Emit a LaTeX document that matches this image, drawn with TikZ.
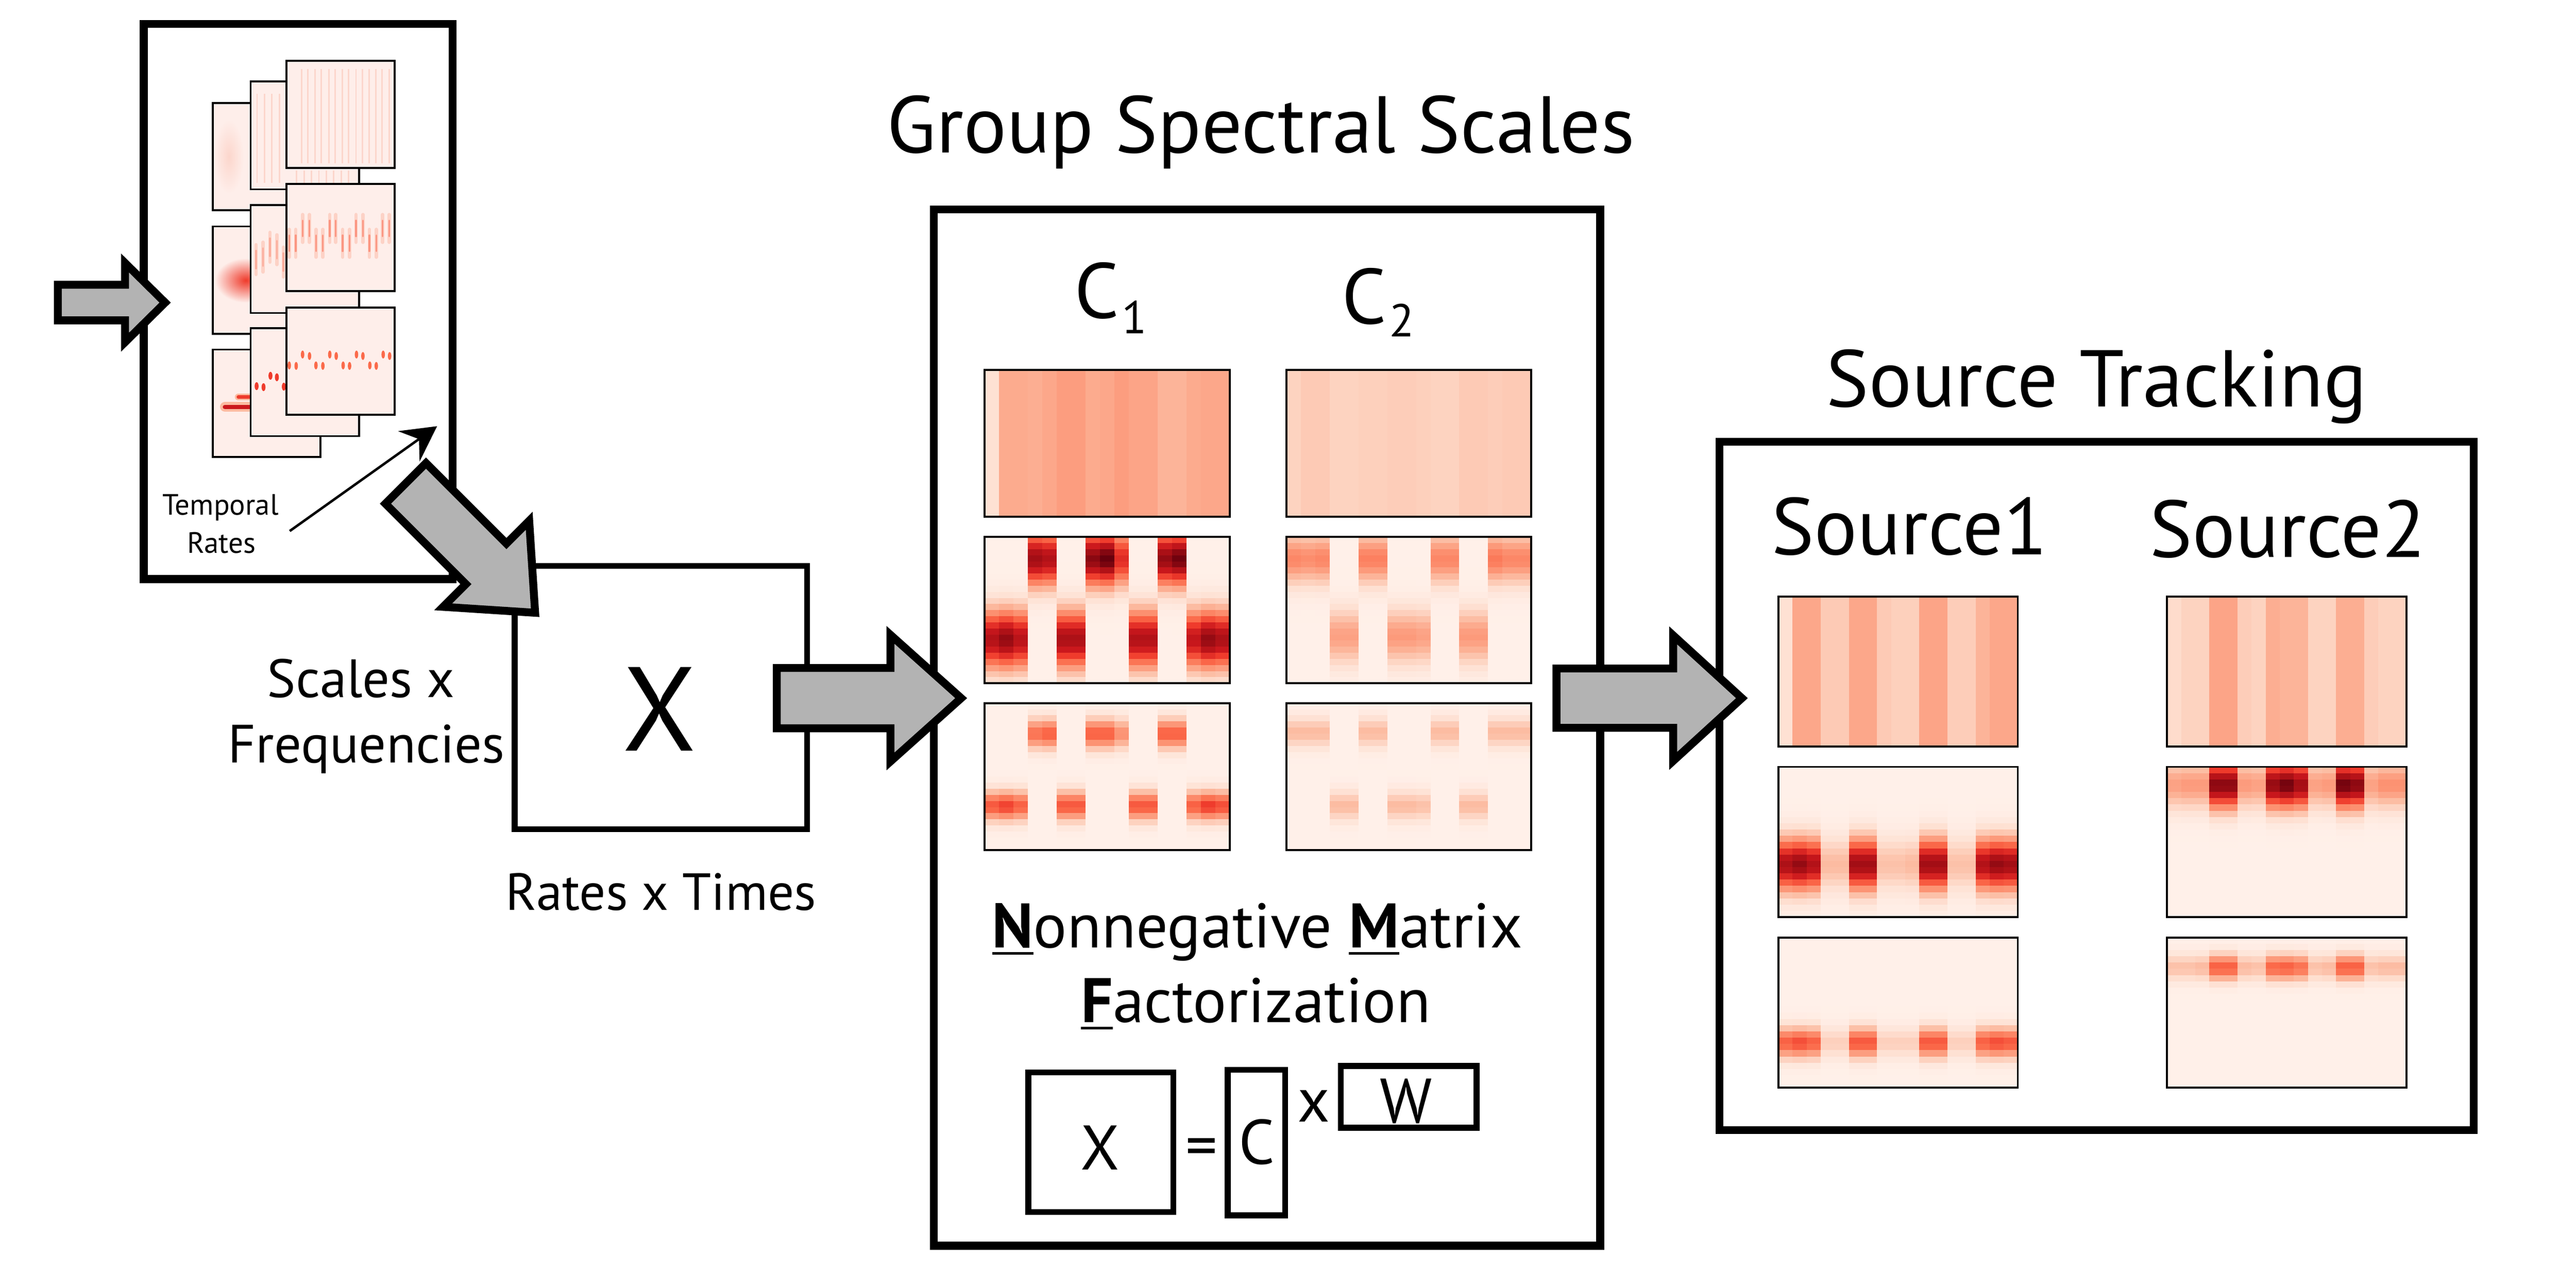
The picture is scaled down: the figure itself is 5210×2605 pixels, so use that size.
\documentclass[tikz,border=0pt]{standalone}
\usepackage{fontspec}
\setmainfont{PT Sans}
\usetikzlibrary{arrows.meta}
\definecolor{hm0}{RGB}{255,245,240}
\definecolor{hm1}{RGB}{254,224,210}
\definecolor{hm2}{RGB}{252,187,161}
\definecolor{hm3}{RGB}{252,146,114}
\definecolor{hm4}{RGB}{251,106,74}
\definecolor{hm5}{RGB}{239,59,44}
\definecolor{hm6}{RGB}{203,24,29}
\definecolor{hm7}{RGB}{165,15,21}
\definecolor{hm8}{RGB}{103,0,13}
\definecolor{arrowgray}{RGB}{179,179,179}
\definecolor{panelbg}{RGB}{254,238,234}
\definecolor{faintline}{RGB}{252,214,204}
\definecolor{dashpink}{RGB}{251,150,130}
\definecolor{dashhalo}{RGB}{253,210,198}
\newcommand\fs[1]{\fontsize{#1}{#1}\selectfont}
\newcommand\ulbf[1]{\setbox0\hbox{\bfseries #1}\rlap{\rule[-0.11em]{\wd0}{0.045em}}\box0}
\newcommand\hset[7]{\def\hB{{#1}}\def\hAU{{#2}}\def\hMU{#3}\def\hSU{#4}\def\hAL{{#5}}\def\hML{#6}\def\hSL{#7}}
\def\Zr{0,0,0,0,0,0,0,0,0,0,0,0,0,0,0,0,0}
\def\Bs{0.03,0.03,0.03,0.03,0.03,0.03,0.03,0.03,0.03,0.03,0.03,0.03,0.03,0.03,0.03,0.03,0.03}
\newcommand\hmap[4]{%
  \foreach \hcol in {1,...,17}{%
    \foreach \hrow in {1,...,24}{%
      \pgfmathsetmacro\hmr{(\hrow-0.5)/24}%
      \pgfmathsetmacro\hmt{\hB[\hcol-1]+\hAU[\hcol-1]*exp(-min(12,((\hmr-\hMU)/\hSU)^2/2))+\hAL[\hcol-1]*exp(-min(12,((\hmr-\hML)/\hSL)^2/2))}%
      \pgfmathsetmacro\hms{max(0,min(0.999,\hmt))*8}%
      \pgfmathtruncatemacro\hmk{floor(\hms)}%
      \pgfmathtruncatemacro\hmkk{\hmk+1}%
      \pgfmathtruncatemacro\hmp{round(100*(1-(\hms-\hmk)))}%
      \fill[fill=hm\hmk!\hmp!hm\hmkk] ({#1+(#3-#1)*(\hcol-1)/17},{#2+(#4-#2)*(\hrow-1)/24}) rectangle ({#1+(#3-#1)*\hcol/17+0.8},{#2+(#4-#2)*\hrow/24+0.8});
    }%
  }%
  \draw[hmborder] (#1,#2) rectangle (#3,#4);
}
\tikzset{
  bigbox/.style={draw, line width=0.16cm, inner sep=0pt},
  midbox/.style={draw, line width=0.12cm, inner sep=0pt},
  blockarrow/.style={draw, line width=0.16cm, fill=arrowgray, line join=miter},
  txt/.style={inner sep=0pt, anchor=base},
  hmborder/.style={draw, line width=0.04cm},
  panel/.style={draw, fill=panelbg, line width=0.04cm},
  thinarrow/.style={line width=0.05cm, -{Stealth[length=0.7cm, width=0.75cm, inset=0.25cm]}},
  softdash/.style={line width=0.07cm, line cap=round, color=dashhalo},
  coredash/.style={line width=0.035cm, line cap=round, color=dashpink},
}
\begin{document}
\begin{tikzpicture}[x=0.01cm, y=-0.01cm]
\fill[white] (0,0) rectangle (5210,2605);
\useasboundingbox (0,0) rectangle (5210,2605);

% ---------- main boxes ----------
\node[bigbox, minimum width=6.24cm, minimum height=11.22cm] (inbox) at (603,610) {};
\node[midbox, minimum width=5.91cm, minimum height=5.32cm] (xbox) at (1336.5,1411) {};
\node[bigbox, minimum width=13.47cm, minimum height=20.95cm] (nmfbox) at (2562.5,1471.5) {};
\node[bigbox, minimum width=15.25cm, minimum height=13.91cm] (srcbox) at (4240.5,1589.5) {};

% ---------- left stacked panels ----------
% back layer
\foreach \py in {208,458,707} \draw[panel] (430,\py) rectangle (648,\py+217);
\shade[inner color=faintline, outer color=panelbg] (463,317) ellipse (30 and 75);
\shade[inner color=hm5, outer color=panelbg] (497,567) ellipse (62 and 45);
\draw[line width=0.2cm, color=hm2, line cap=round] (455,823) -- (505,823);
\draw[line width=0.09cm, color=hm6, line cap=round] (455,823) -- (505,823);
\draw[line width=0.14cm, color=hm2, line cap=round] (482,803) -- (505,803);
\draw[line width=0.07cm, color=hm5, line cap=round] (482,803) -- (505,803);
% middle layer
\foreach \py in {165,415,664} \draw[panel] (507,\py) rectangle (726,\py+218);
\foreach \lx in {520,535,550,565} \draw[faintline, line width=0.03cm] (\lx,190) -- (\lx,370);
\foreach \lx in {600,615,630,645,660,675,690,705} \draw[faintline, line width=0.03cm] (\lx,345) -- (\lx,375);
\foreach \dx/\dy in {518/525,532/520,546/500,560/505,573/530} {
  \draw[softdash] (\dx,\dy-30) -- (\dx,\dy+30);
  \draw[coredash, opacity=0.6] (\dx,\dy-18) -- (\dx,\dy+18);
}
\foreach \dx/\dy in {519/781,533/783,547/760,560/763,574/782} \fill[hm5] (\dx,\dy) ellipse (4 and 8);
% front layer
\foreach \py in {123,372,622} \draw[panel] (579,\py) rectangle (798,\py+217);
\foreach \lx in {610,623,637,650,665,678,692,705,720,733,747,760,773,787} \draw[faintline, line width=0.03cm] (\lx,140) -- (\lx,330);
\foreach \dx/\dy in {585/492,598/492,612/462,626/462,639/492,653/492,667/462,679/462,693/492,707/492,720/462,734/462,747/492,761/492,774/462,787/462} {
  \draw[softdash] (\dx,\dy-28) -- (\dx,\dy+28);
  \draw[coredash] (\dx,\dy-16) -- (\dx,\dy+16);
}
\foreach \dx/\dy in {585/739,599/740,612/717,626/720,639/739,653/740,667/717,680/720,694/739,707/740,721/717,734/720,748/739,761/740,775/717,788/720}
  \fill[hm4] (\dx,\dy) ellipse (3.5 and 8);

% Temporal rates label and arrow
\node[txt, font=\fs{16.9pt}] (lab-temporal) at (446,1041) {Temporal};
\node[txt, font=\fs{16.9pt}] (lab-rates) at (448,1119) {Rates};
\coordinate (tr-from) at (586,1074);
\coordinate (tr-to) at (884,862);
\draw[thinarrow] (tr-from) -- (tr-to);

% ---------- X matrix ----------
\node[txt, font=\fs{68.7pt}] (xletter) at (1334,1519) {X};
\node[txt, font=\fs{31pt}] (lab-scales) at (730,1410) {Scales x};
\node[txt, font=\fs{31pt}] (lab-freq) at (741,1543) {Frequencies};
\node[txt, font=\fs{30pt}] (lab-rt) at (1337,1841) {Rates x Times};

% ---------- NMF box ----------
\node[txt, font=\fs{46.3pt}] (title-gss) at (2550,309) {Group Spectral Scales};
\node[txt, anchor=base west, font=\fs{45pt}] (lab-c1) at (2172,643) {C};
\node[txt, anchor=base west, font=\fs{26.5pt}] (lab-c1sub) at (2268,675) {1};
\node[txt, anchor=base west, font=\fs{45pt}] (lab-c2) at (2713,655) {C};
\node[txt, anchor=base west, font=\fs{26.5pt}] (lab-c2sub) at (2809,681) {2};

% C1 heatmaps
\hset{0.12,0.30,0.30,0.29,0.31,0.34,0.34,0.30,0.31,0.34,0.32,0.32,0.27,0.27,0.30,0.31,0.31}{\Zr}{0.5}{0.1}{\Zr}{0.5}{0.1}
\hmap{1991}{748}{2487}{1045}
\hset{\Bs}{0,0,0,0.85,0.8,0,0,0.9,0.97,0.65,0,0,0.88,0.95,0,0,0}{0.15}{0.13}{0.8,0.88,0.78,0,0,0.82,0.82,0,0,0,0.8,0.8,0,0,0.75,0.88,0.82}{0.7}{0.14}
\hmap{1991}{1086}{2487}{1382}
\hset{\Bs}{0,0,0,0.45,0.5,0,0,0.5,0.5,0.35,0,0,0.5,0.5,0,0,0}{0.21}{0.07}{0.52,0.58,0.5,0,0,0.52,0.52,0,0,0,0.52,0.52,0,0,0.5,0.6,0.55}{0.7}{0.07}
\hmap{1991}{1422}{2487}{1719}
% C2 heatmaps
\hset{0.17,0.20,0.20,0.17,0.17,0.18,0.18,0.19,0.19,0.18,0.17,0.17,0.20,0.20,0.19,0.20,0.20}{\Zr}{0.5}{0.1}{\Zr}{0.5}{0.1}
\hmap{2602}{748}{3097}{1045}
\hset{\Bs}{0.38,0.36,0.38,0,0,0.4,0.4,0,0,0,0.38,0.38,0,0,0.42,0.38,0.38}{0.15}{0.12}{0,0,0,0.3,0.3,0,0,0.32,0.32,0.3,0,0,0.32,0.32,0,0,0}{0.68}{0.13}
\hmap{2602}{1086}{3097}{1382}
\hset{\Bs}{0.22,0.22,0.22,0,0,0.22,0.22,0,0,0,0.22,0.22,0,0,0.22,0.22,0.22}{0.2}{0.07}{0,0,0,0.22,0.22,0,0,0.22,0.22,0.2,0,0,0.22,0.22,0,0,0}{0.7}{0.07}
\hmap{2602}{1422}{3097}{1719}

\node[txt, font=\fs{36.2pt}] (nmf1) at (2543,1917) {\ulbf{N}onnegative \ulbf{M}atrix};
\node[txt, font=\fs{36.2pt}] (nmf2) at (2540,2068) {\ulbf{F}actorization};
\node[midbox, minimum width=2.93cm, minimum height=2.82cm] (eqxbox) at (2226.5,2310) {};
\node[midbox, minimum width=1.16cm, minimum height=2.94cm] (eqcbox) at (2541,2311) {};
\node[midbox, minimum width=2.74cm, minimum height=1.25cm] (eqwbox) at (2849,2218.5) {};
\node[txt, font=\fs{36.2pt}] (eqx-l) at (2225,2366) {X};
\node[inner sep=0pt, font=\fs{36.2pt}] (eq-eq) at (2430,2332) {=};
\node[txt, font=\fs{36.2pt}] (eqc-l) at (2542,2354) {C};
\node[txt, font=\fs{36.2pt}] (eq-times) at (2657,2269) {x};
\node[txt, font=\fs{36.2pt}] (eqw-l) at (2844,2271) {W};

% ---------- Source tracking ----------
\node[txt, font=\fs{46.3pt}] (title-st) at (4240,823) {Source Tracking};
\node[txt, font=\fs{46.3pt}] (lab-src1) at (3862,1122) {Source1};
\node[txt, font=\fs{46.3pt}] (lab-src2) at (4627,1127) {Source2};
% Source1
\hset{0.12,0.31,0.31,0.2,0.2,0.31,0.31,0.2,0.18,0.18,0.32,0.32,0.19,0.19,0.27,0.31,0.31}{\Zr}{0.5}{0.1}{\Zr}{0.5}{0.1}
\hmap{3597}{1207}{4081}{1510}
\hset{\Bs}{\Zr}{0.5}{0.1}{0.82,0.88,0.8,0.22,0.22,0.85,0.85,0.2,0.2,0.22,0.85,0.85,0.2,0.2,0.8,0.88,0.85}{0.65}{0.12}
\hmap{3597}{1551}{4081}{1855}
\hset{\Bs}{\Zr}{0.5}{0.1}{0.5,0.55,0.5,0.15,0.15,0.52,0.52,0.15,0.15,0.15,0.52,0.52,0.15,0.15,0.5,0.55,0.52}{0.7}{0.07}
\hmap{3597}{1896}{4081}{2200}
% Source2
\hset{0.14,0.17,0.17,0.32,0.32,0.19,0.17,0.29,0.27,0.27,0.17,0.17,0.29,0.29,0.19,0.17,0.17}{\Zr}{0.5}{0.1}{\Zr}{0.5}{0.1}
\hmap{4383}{1207}{4867}{1510}
\hset{\Bs}{0.3,0.32,0.32,0.9,0.9,0.32,0.3,0.88,0.95,0.85,0.3,0.32,0.95,0.9,0.3,0.35,0.35}{0.12}{0.11}{\Zr}{0.5}{0.1}
\hmap{4383}{1551}{4867}{1855}
\hset{\Bs}{0.2,0.2,0.22,0.5,0.5,0.22,0.2,0.48,0.5,0.45,0.2,0.22,0.5,0.5,0.2,0.22,0.22}{0.2}{0.06}{\Zr}{0.5}{0.1}
\hmap{4383}{1896}{4867}{2200}

% ---------- block arrows ----------
\draw[blockarrow] (117,576) -- (253,576) -- (253,532) -- (334,612) -- (253,692) -- (253,648) -- (117,648) -- cycle;
\draw[blockarrow] (861.7,936.6) -- (1024.3,1099.3) -- (1070.3,1053.3) -- (1082.3,1239.3) -- (896.3,1227.3) -- (942.3,1181.3) -- (779.6,1018.7) -- cycle;
\draw[blockarrow] (1571,1351) -- (1801,1351) -- (1801,1284) -- (1944,1412) -- (1801,1540) -- (1801,1473) -- (1571,1473) -- cycle;
\draw[blockarrow] (3148,1352) -- (3384,1352) -- (3384,1285) -- (3523,1412) -- (3384,1539) -- (3384,1472) -- (3148,1472) -- cycle;
\end{tikzpicture}
\end{document}
